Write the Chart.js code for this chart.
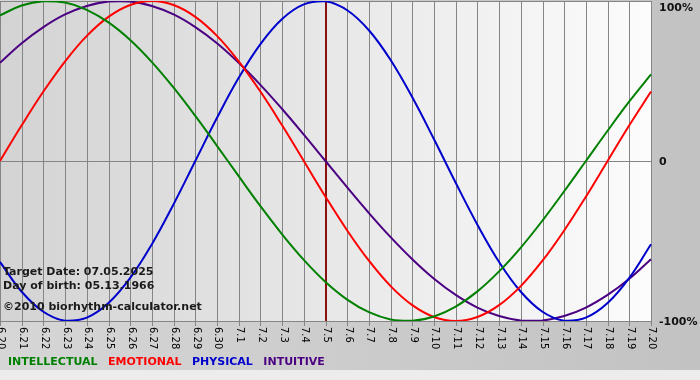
<!DOCTYPE html>
<html>
<head>
<meta charset="utf-8">
<script src="https://cdn.jsdelivr.net/npm/chart.js@4.4.1/dist/chart.umd.min.js"></script>
<style>
  html, body { margin: 0; padding: 0; background: #ececec; }
  #wrap { width: 700px; height: 380px; position: relative; }
</style>
</head>
<body>
<div id="wrap"><canvas id="c" width="700" height="380"></canvas></div>
<script>
const categories = ['6.20','6.21','6.22','6.23','6.24','6.25','6.26','6.27','6.28','6.29','6.30',
  '7.1','7.2','7.3','7.4','7.5','7.6','7.7','7.8','7.9','7.10','7.11','7.12','7.13','7.14','7.15',
  '7.16','7.17','7.18','7.19','7.20'];
const intellectual = [91.0, 97.2, 99.9, 99.0, 94.5, 86.6, 75.6, 61.8, 45.8, 28.2, 9.5, -9.5, -28.2, -45.8, -61.8, -75.6,
  -86.6, -94.5, -99.0, -99.9, -97.2, -91.0, -81.5, -69.0, -54.1, -37.2, -18.9, 0, 18.9, 37.2, 54.1];
const emotional = [0, 22.3, 43.4, 62.3, 78.2, 90.1, 97.5, 100, 97.5, 90.1, 78.2, 62.3, 43.4, 22.3, 0, -22.3,
  -43.4, -62.3, -78.2, -90.1, -97.5, -100, -97.5, -90.1, -78.2, -62.3, -43.4, -22.3, 0, 22.3, 43.4];
const physical = [-63.1, -81.7, -94.2, -99.8, -97.9, -88.8, -73.1, -52.0, -27.0, 0, 27.0, 52.0, 73.1, 88.8, 97.9, 99.8,
  94.2, 81.7, 63.1, 39.8, 13.6, -13.6, -39.8, -63.1, -81.7, -94.2, -99.8, -97.9, -88.8, -73.1, -52.0];
const intuitive = [61.4, 73.6, 83.7, 91.6, 96.9, 99.7, 99.7, 96.9, 91.6, 83.7, 73.6, 61.4, 47.6, 32.5, 16.5, 0,
  -16.5, -32.5, -47.6, -61.4, -73.6, -83.7, -91.6, -96.9, -99.7, -99.7, -96.9, -91.6, -83.7, -73.6, -61.4];
const yTickValues = [100, 0, -100];
const yTickLabels = ['100%', '0', '-100%'];
const targetIndex = 15;
const legendNames = ['INTELLECTUAL', 'EMOTIONAL', 'PHYSICAL', 'INTUITIVE'];
const infoLines = ['Target Date: 07.05.2025', 'Day of birth: 05.13.1966', '\u00A92010 biorhythm-calculator.net'];

const colors = { intellectual: '#008000', emotional: '#ff0000', physical: '#0000cc', intuitive: '#4b0082' };

const decor = {
  id: 'decor',
  beforeDraw(chart) {
    const ctx = chart.ctx, a = chart.chartArea;
    ctx.save();
    let g = ctx.createLinearGradient(0, 0, 700, 0);
    g.addColorStop(0, '#d6d6d6');
    g.addColorStop(1, '#c2c2c2');
    ctx.fillStyle = g;
    ctx.fillRect(0, 0, 700, 370);
    ctx.fillStyle = '#ececec';
    ctx.fillRect(0, 370, 700, 10);
    g = ctx.createLinearGradient(a.left, 0, a.right, 0);
    g.addColorStop(0, '#d3d3d3');
    g.addColorStop(1, '#fcfcfc');
    ctx.fillStyle = g;
    ctx.fillRect(a.left, a.top, a.right - a.left, a.bottom - a.top);
    ctx.restore();
  },
  beforeDatasetsDraw(chart) {
    const ctx = chart.ctx, a = chart.chartArea, xs = chart.scales.x, ys = chart.scales.y;
    ctx.save();
    ctx.strokeStyle = '#858585';
    ctx.lineWidth = 1;
    ctx.beginPath();
    categories.forEach((c, i) => {
      const x = Math.round(xs.getPixelForValue(i)) + 0.5;
      ctx.moveTo(x, a.top);
      ctx.lineTo(x, a.bottom + 5);
    });
    yTickValues.forEach(v => {
      const y = Math.round(ys.getPixelForValue(v)) + 0.5;
      ctx.moveTo(a.left, y);
      ctx.lineTo(a.right, y);
    });
    ctx.stroke();
    // target date marker
    ctx.strokeStyle = '#8b1010';
    ctx.lineWidth = 2;
    const tx = Math.round(xs.getPixelForValue(targetIndex));
    ctx.beginPath();
    ctx.moveTo(tx, a.top);
    ctx.lineTo(tx, a.bottom);
    ctx.stroke();
    ctx.restore();
  },
  afterDraw(chart) {
    const ctx = chart.ctx, a = chart.chartArea, xs = chart.scales.x, ys = chart.scales.y;
    ctx.save();
    // x labels rotated clockwise
    ctx.fillStyle = '#000';
    ctx.font = '10px "DejaVu Sans"';
    ctx.textAlign = 'left';
    ctx.textBaseline = 'middle';
    categories.forEach((c, i) => {
      const x = xs.getPixelForValue(i);
      ctx.save();
      ctx.translate(x + 1, a.bottom + 6);
      ctx.rotate(Math.PI / 2);
      ctx.fillText(c, 0, 0);
      ctx.restore();
    });
    // y labels on right
    ctx.font = 'bold 11px "DejaVu Sans"';
    ctx.fillStyle = '#111';
    yTickValues.forEach((v, i) => {
      let y = ys.getPixelForValue(v);
      y = Math.max(y, a.top + 6);
      ctx.fillText(yTickLabels[i], a.right + 8, y + 1);
    });
    // info text
    ctx.fillStyle = '#1a1a1a';
    ctx.font = 'bold 11px "DejaVu Sans"';
    ctx.fillText(infoLines[0], 3, 272);
    ctx.fillText(infoLines[1], 3, 286);
    ctx.fillText(infoLines[2], 3, 307);
    // legend
    const lc = [colors.intellectual, colors.emotional, colors.physical, colors.intuitive];
    let lx = 8;
    legendNames.forEach((n, i) => {
      ctx.fillStyle = lc[i];
      ctx.fillText(n, lx, 362);
      lx += ctx.measureText(n).width + 10.5;
    });
    ctx.restore();
  }
};

new Chart(document.getElementById('c'), {
  type: 'line',
  data: {
    labels: categories,
    datasets: [
      { label: 'INTELLECTUAL', data: intellectual, borderColor: colors.intellectual },
      { label: 'EMOTIONAL', data: emotional, borderColor: colors.emotional },
      { label: 'PHYSICAL', data: physical, borderColor: colors.physical },
      { label: 'INTUITIVE', data: intuitive, borderColor: colors.intuitive }
    ]
  },
  options: {
    responsive: false,
    animation: false,
    devicePixelRatio: 1,
    layout: { padding: { left: 0, top: 1, right: 49, bottom: 59 } },
    elements: {
      line: { borderWidth: 2, tension: 0.4, fill: false },
      point: { radius: 0 }
    },
    plugins: { legend: { display: false }, tooltip: { enabled: false } },
    scales: {
      x: { type: 'category', display: false, offset: false },
      y: { display: false, min: -100, max: 100 }
    }
  },
  plugins: [decor]
});
</script>
</body>
</html>
